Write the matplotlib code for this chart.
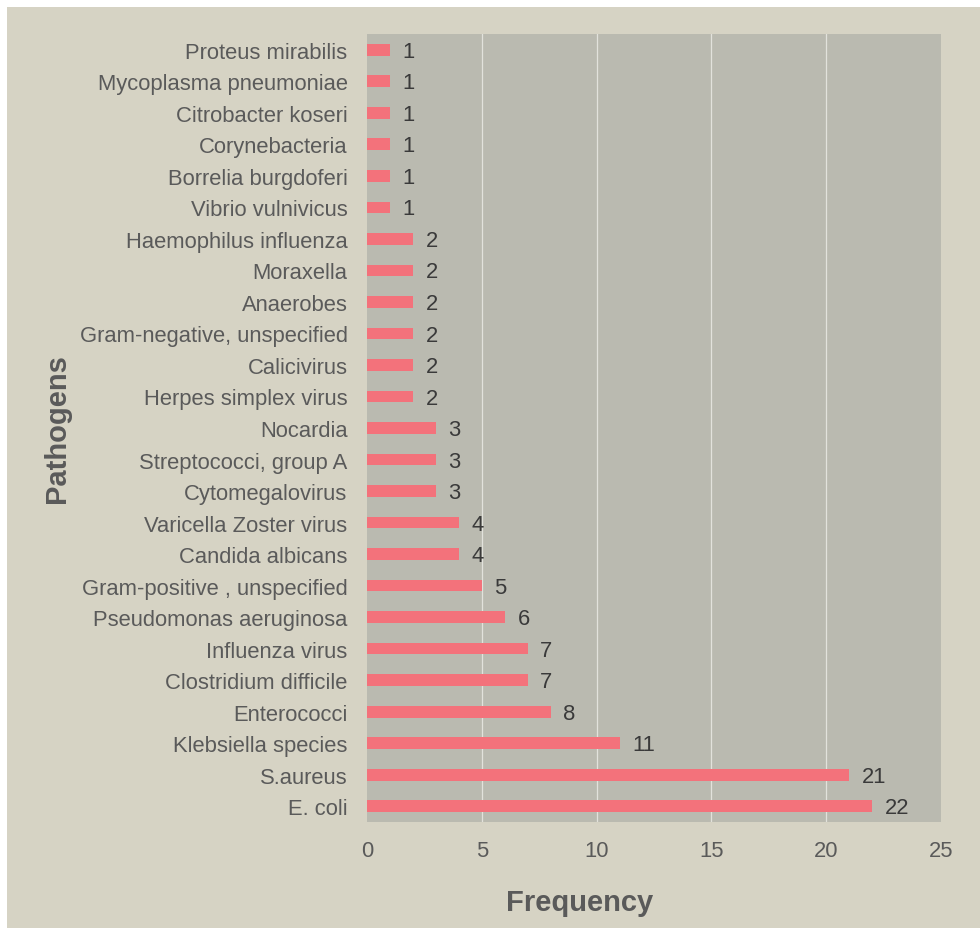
import matplotlib
matplotlib.use("Agg")
import matplotlib.pyplot as plt
from matplotlib.patches import Rectangle

pathogens = [
    "Proteus mirabilis", "Mycoplasma pneumoniae", "Citrobacter koseri",
    "Corynebacteria", "Borrelia burgdoferi", "Vibrio vulnivicus",
    "Haemophilus influenza", "Moraxella", "Anaerobes",
    "Gram-negative, unspecified", "Calicivirus", "Herpes simplex virus",
    "Nocardia", "Streptococci, group A", "Cytomegalovirus",
    "Varicella Zoster virus", "Candida albicans", "Gram-positive , unspecified",
    "Pseudomonas aeruginosa", "Influenza virus", "Clostridium difficile",
    "Enterococci", "Klebsiella species", "S.aureus", "E. coli",
]
frequency = [1, 1, 1, 1, 1, 1, 2, 2, 2, 2, 2, 2, 3, 3, 3, 4, 4, 5, 6, 7, 7, 8, 11, 21, 22]
x_ticks = [0, 5, 10, 15, 20, 25]

plt.rcParams["font.family"] = ["Liberation Sans", "DejaVu Sans"]

W, H = 980, 929
fig = plt.figure(figsize=(W / 100, H / 100), dpi=100, facecolor="white")
# beige page with a thin white margin at top and left
fig.patches.append(Rectangle((7 / W, 0), 1, 1 - 8 / H, transform=fig.transFigure,
                             facecolor="#d6d3c4", edgecolor="none", zorder=-10))

ax = fig.add_axes([367 / W, 1 - 823 / H, (941 - 367) / W, (823 - 35) / H])
ax.set_facecolor("#babab0")

n = len(pathogens)
ypos = list(range(n - 1, -1, -1))
ax.barh(ypos, frequency, height=0.37, color="#f3727b", zorder=3)
for y, v in zip(ypos, frequency):
    ax.text(v + 0.55, y - 0.05, str(v), va="center", ha="left", fontsize=15.8,
            color="#3a3a3a", zorder=4)

ax.set_xlim(0, 25)
ax.set_ylim(-0.5, n - 0.5)
ax.set_xticks(x_ticks)
ax.set_xticklabels([str(t) for t in x_ticks])
ax.set_yticks(ypos)
ax.set_yticklabels(pathogens)
ax.tick_params(axis="both", length=0, labelsize=15.8, labelcolor="#5a5a5a")
ax.tick_params(axis="y", pad=14)
ax.tick_params(axis="x", pad=13)

for g in x_ticks[1:-1]:
    ax.axvline(g, color="#e2e2dc", lw=0.9, zorder=1)
for s in ax.spines.values():
    s.set_visible(False)

ax.set_xlabel("Frequency", fontsize=21, fontweight="bold", color="#5a5a5a")
ax.xaxis.set_label_coords((580 - 367) / (941 - 367), -(903 - 823) / (823 - 35))
ax.set_ylabel("Pathogens", fontsize=21, fontweight="bold", color="#5a5a5a")
ax.yaxis.set_label_coords(-(367 - 57) / (941 - 367), 0.5)
ax.xaxis.label.set_va("center")
ax.yaxis.label.set_va("center")

fig.savefig("out.png", dpi=100, facecolor=fig.get_facecolor())
